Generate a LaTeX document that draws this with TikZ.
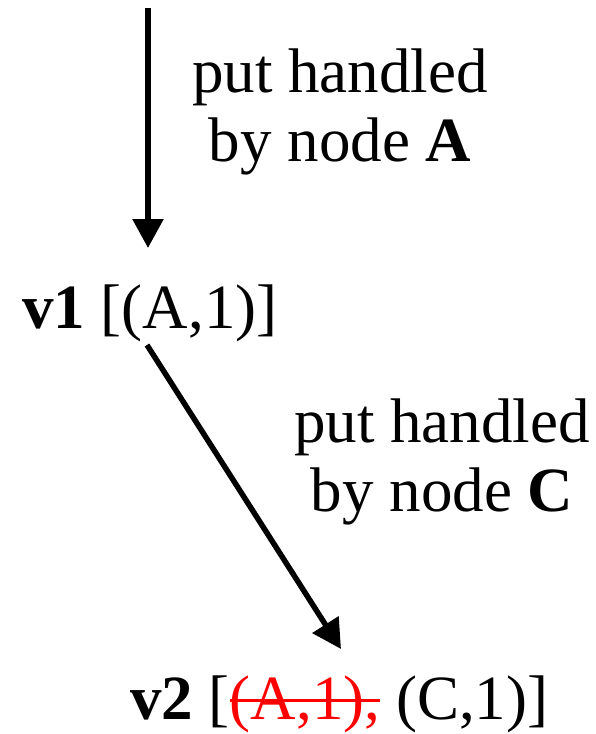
\documentclass[tikz,border=0pt]{standalone}
\usepackage{fontspec}
\setmainfont{Liberation Serif}
\usetikzlibrary{arrows.meta}
\newsavebox\strkbox
\newcommand\strk[1]{\sbox\strkbox{#1}\rlap{\rule[0.27em]{\wd\strkbox}{0.045em}}\usebox\strkbox}
\begin{document}
\begin{tikzpicture}[x=1pt,y=-1pt,
  lbl/.style={inner sep=0pt,font=\fontsize{63}{69}\selectfont},
  conn/.style={line width=5.5pt,-{Triangle[width=30pt,length=29pt]}}]
\useasboundingbox (0,0) rectangle (596,734);
% labels
\node[lbl,anchor=base,align=center] (la) at (340,161) {put handled\\by node \textbf{A}};
\node[lbl,anchor=base,align=center] (lc) at (442,511) {put handled\\by node \textbf{C}};
\node[lbl,anchor=base west] (v1) at (22,328) {\textbf{v1} [(A,1)]};
\node[lbl,anchor=base west] (v2) at (130,719) {\textbf{v2} [\textcolor{red}{\strk{(A,1),}} (C,1)]};
% connector ends
\coordinate (start) at (148,8);
\coordinate (v1in) at (148,248);
\coordinate (v1out) at (147,345);
\coordinate (v2in) at (341,649);
\draw[conn] (start) -- (v1in);
\draw[conn] (v1out) -- (v2in);
\end{tikzpicture}
\end{document}
